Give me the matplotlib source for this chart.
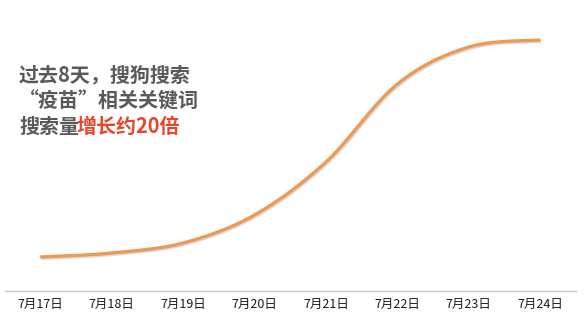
import numpy as np
import matplotlib
matplotlib.use("Agg")
import matplotlib.pyplot as plt
import matplotlib.patheffects as pe

plt.rcParams['font.family'] = ['Noto Sans CJK SC', 'DejaVu Sans']

categories = ["7月17日", "7月18日", "7月19日", "7月20日", "7月21日", "7月22日", "7月23日", "7月24日"]
values = [34, 38, 48, 76, 129, 207, 244, 251]

W, H = 588, 332
fig = plt.figure(figsize=(W / 100, H / 100), dpi=100)
left_px, right_px, axis_px, top_px = 4.5, 576, 291, 10
ax = fig.add_axes([left_px / W, (H - axis_px) / H, (right_px - left_px) / W, (axis_px - top_px) / H])

x = np.arange(len(values), dtype=float)
y = np.array(values, dtype=float)

# Catmull-Rom style smoothing (Excel-like smoothed line)
def smooth(xp, yp, n=40):
    px = np.concatenate([[xp[0]], xp, [xp[-1]]])
    py = np.concatenate([[yp[0]], yp, [yp[-1]]])
    xs, ys = [], []
    t = np.linspace(0, 1, n)
    for i in range(1, len(px) - 2):
        p0 = np.array([px[i], py[i]])
        p3 = np.array([px[i + 1], py[i + 1]])
        c1 = p0 + (np.array([px[i + 1], py[i + 1]]) - np.array([px[i - 1], py[i - 1]])) / 6
        c2 = p3 - (np.array([px[i + 2], py[i + 2]]) - np.array([px[i], py[i]])) / 6
        b = ((1 - t) ** 3)[:, None] * p0 + (3 * (1 - t) ** 2 * t)[:, None] * c1 + \
            (3 * (1 - t) * t ** 2)[:, None] * c2 + (t ** 3)[:, None] * p3
        xs.append(b[:, 0]); ys.append(b[:, 1])
    return np.concatenate(xs), np.concatenate(ys)

sx, sy = smooth(x, y)
ax.plot(sx, sy, color="#EE9A55", lw=2.4, solid_capstyle="butt",
        path_effects=[pe.SimpleLineShadow(offset=(0.8, -1.0), shadow_color="#999999", alpha=0.35),
                      pe.Normal()])

ax.set_xlim(-0.5, len(values) - 0.5)
ax.set_ylim(0, axis_px - top_px)
ax.set_xticks(x)
ax.set_xticklabels(categories, fontsize=9, color="#1a1a1a")
ax.tick_params(axis="x", length=0, pad=5)
ax.set_yticks([])
for s in ["top", "left", "right"]:
    ax.spines[s].set_visible(False)
ax.spines["bottom"].set_color("#C8C8C8")
ax.spines["bottom"].set_linewidth(1.0)

fs = 14.4
gray = "#595959"
red = "#E8452C"
fig.text(19 / W, 1 - 75 / H, "过去8天，搜狗搜索", fontsize=fs, fontweight="bold", color=gray, va="center", ha="left")
fig.text(19 / W, 1 - 101 / H, "“疫苗”相关关键词", fontsize=fs, fontweight="bold", color=gray, va="center", ha="left")
t3 = fig.text(19 / W, 1 - 126 / H, "搜索量", fontsize=fs, fontweight="bold", color=gray, va="center", ha="left")
fig.canvas.draw()
ax.annotate("增长约20倍", xy=(1, 0.5), xycoords=t3, xytext=(-1.8, 0), textcoords="offset points",
            fontsize=fs, fontweight="bold", color=red, va="center", ha="left")

fig.savefig("out.png", dpi=100)
